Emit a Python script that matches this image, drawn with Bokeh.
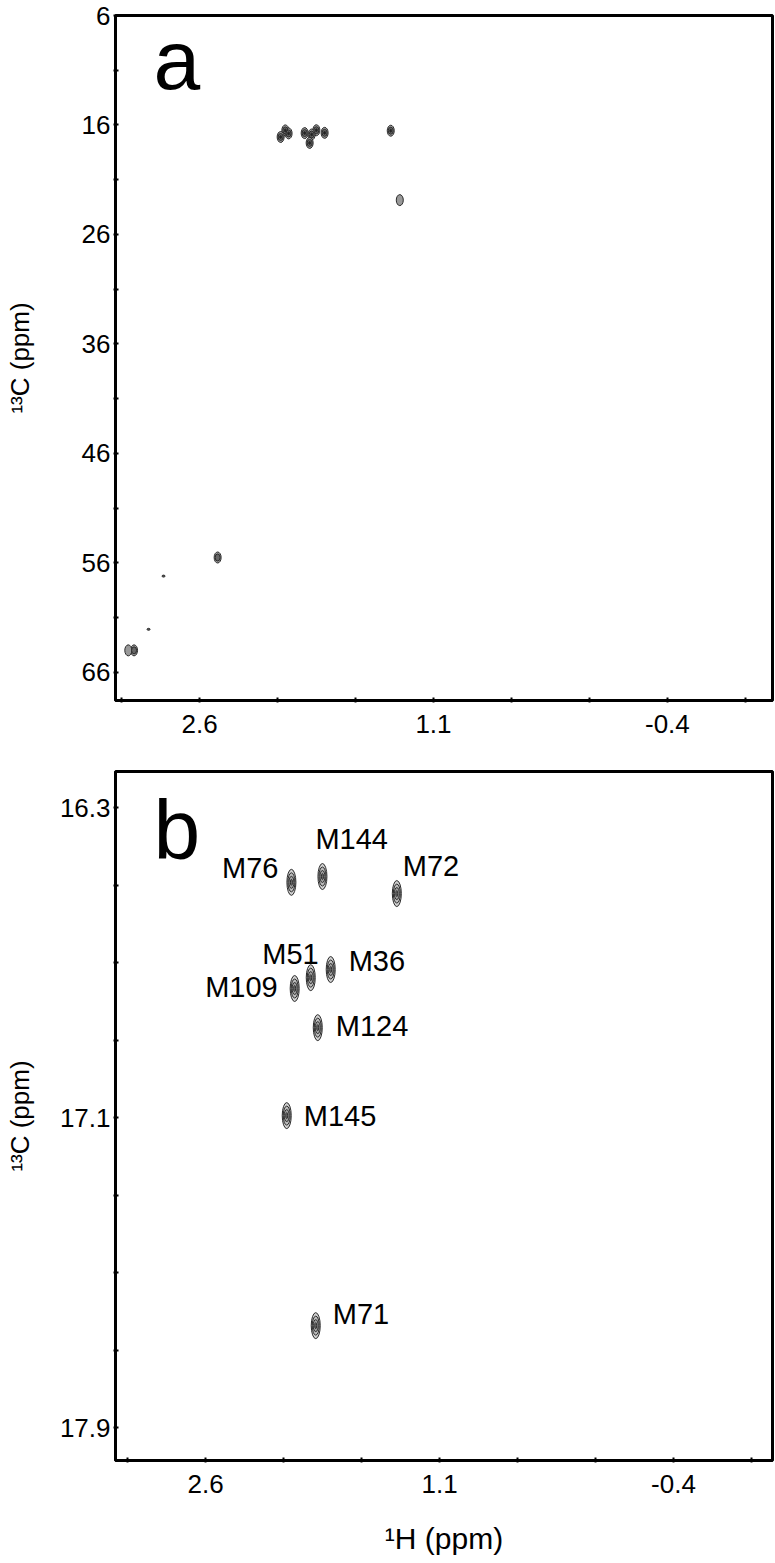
from bokeh.plotting import figure
from bokeh.models import Range1d, FixedTicker, ColumnDataSource
from bokeh.layouts import column
from bokeh.embed import file_html
from bokeh.resources import INLINE
from bokeh.core.properties import value

# ---------------- data ----------------
met_labels = ["M76", "M144", "M72", "M51", "M36", "M109", "M124", "M145", "M71"]
met_h = [2.050, 1.851, 1.374, 1.926, 1.798, 2.029, 1.881, 2.080, 1.894]
met_c = [16.493, 16.478, 16.522, 16.739, 16.718, 16.767, 16.868, 17.095, 17.637]

extra_h = [1.316, 2.484, 3.020, 3.057, 2.831, 2.927]
extra_c = [22.86, 55.50, 63.98, 63.98, 57.20, 62.06]
extra_int = [1, 2, 2, 1, 0, 0]

a_yticks = [6, 16, 26, 36, 46, 56, 66]
a_yminor = [11, 21, 31, 41, 51, 61]
b_yticks = [16.3, 17.1, 17.9]
b_yminor = [16.5, 16.7, 16.9, 17.3, 17.5, 17.7]
xticks = [2.6, 1.1, -0.4]
xtick_labels = ["2.6", "1.1", "-0.4"]
xminor = [3.1, 2.1, 1.6, 0.6, 0.1, -0.9]

panel_tags = ["a", "b"]

# ---------------- styles ----------------
FONT = "Liberation Sans"
label_pos = {  # align, x offset px, y offset px
    "M76": ("right", -13, -14), "M144": ("left", -7, -38), "M72": ("left", 6, -28),
    "M51": ("right", 8, -24), "M36": ("left", 18, -9), "M109": ("right", -17, -2),
    "M124": ("left", 18, -2), "M145": ("left", 17, 0), "M71": ("left", 17, -12),
}


def style(p, xt, xm, yt, ym):
    p.xgrid.visible = False
    p.ygrid.visible = False
    p.outline_line_color = "black"
    p.outline_line_width = 3
    p.background_fill_color = "white"
    p.border_fill_color = "white"
    p.xaxis.ticker = FixedTicker(ticks=xt, minor_ticks=xm)
    p.yaxis.ticker = FixedTicker(ticks=yt, minor_ticks=ym)
    p.xaxis.major_label_overrides = {t: s for t, s in zip(xticks, xtick_labels)}
    for ax in (p.xaxis, p.yaxis):
        ax.axis_line_width = 3
        ax.axis_line_color = "black"
        ax.major_tick_in = 3
        ax.major_tick_out = 2
        ax.minor_tick_in = 3
        ax.minor_tick_out = 2
        ax.major_tick_line_width = 2
        ax.minor_tick_line_width = 2
        ax.major_label_text_font = FONT
        ax.major_label_text_font_size = "26px"
        ax.major_label_text_color = "black"
        ax.axis_label_text_font = FONT
        ax.axis_label_text_font_size = "26px"
        ax.axis_label_text_font_style = "normal"
        ax.axis_label_text_color = "black"
    p.xaxis.major_label_standoff = 12
    p.yaxis.major_label_standoff = 3
    p.yaxis.major_label_orientation = "horizontal"


def peaks(p, xs, ys, ints, sizes, fills):
    for lvl, ((w, h), fill) in enumerate(zip(sizes, fills)):
        sel = [i for i, v in enumerate(ints) if v >= lvl]
        if not sel:
            continue
        src = ColumnDataSource(dict(x=[xs[i] for i in sel], y=[ys[i] for i in sel]))
        p.ellipse("x", "y", width=w, height=h, width_units="screen", height_units="screen",
                  source=src, fill_color=fill, line_color="#2b2b2b", line_width=1)


def tag(p, x, y, t):
    p.text(x=[x], y=[y], text=[t], text_align="left", text_baseline="middle",
           text_font=value(FONT), text_font_size="84px", text_color="black")


# ---------------- panel a ----------------
pa = figure(width=775, height=760, output_backend="svg", toolbar_location=None,
            x_range=Range1d(3.139, -1.074), y_range=Range1d(68.56, 6.0),
            min_border_left=115, min_border_right=3, min_border_top=15, min_border_bottom=60)
style(pa, xticks, xminor, a_yticks, a_yminor)
pa.yaxis.axis_label = "¹³C (ppm)"
pa.yaxis.axis_label_standoff = 44

a_h = met_h + extra_h
a_c = met_c + extra_c
a_i = [3] * len(met_h) + extra_int
peaks(pa, a_h, a_c, a_i, [(3, 2), (7, 11), (5, 7), (2, 3)],
      ["#555555", "#999999", "#666666", "#222222"])
tag(pa, 2.895, 10.02, panel_tags[0])

# ---------------- panel b ----------------
pb = figure(width=775, height=803, output_backend="svg", toolbar_location=None,
            x_range=Range1d(3.178, -1.035), y_range=Range1d(17.985, 16.207),
            min_border_left=115, min_border_right=3, min_border_top=11, min_border_bottom=103)
style(pb, xticks, xminor, b_yticks, b_yminor)
pb.yaxis.axis_label = "¹³C (ppm)"
pb.yaxis.axis_label_standoff = 22
pb.xaxis.axis_label = "¹H (ppm)"
pb.xaxis.axis_label_text_font_size = "30px"
pb.xaxis.axis_label_standoff = 26

peaks(pb, met_h, met_c, [3] * len(met_h), [(9, 26), (7, 19), (5, 12), (2, 6)],
      ["#d0d0d0", "#bcbcbc", "#a0a0a0", "#707070"])

for lab, hx, cy in zip(met_labels, met_h, met_c):
    align, dx, dy = label_pos[lab]
    pb.text(x=[hx], y=[cy], text=[lab], x_offset=dx, y_offset=dy,
            text_align=align, text_baseline="middle", text_font=value(FONT),
            text_font_size="29px", text_color="black")

tag(pb, 2.934, 16.357, panel_tags[1])

layout = column(pa, pb, spacing=0)
open("out.html", "w").write(file_html(layout, INLINE))
